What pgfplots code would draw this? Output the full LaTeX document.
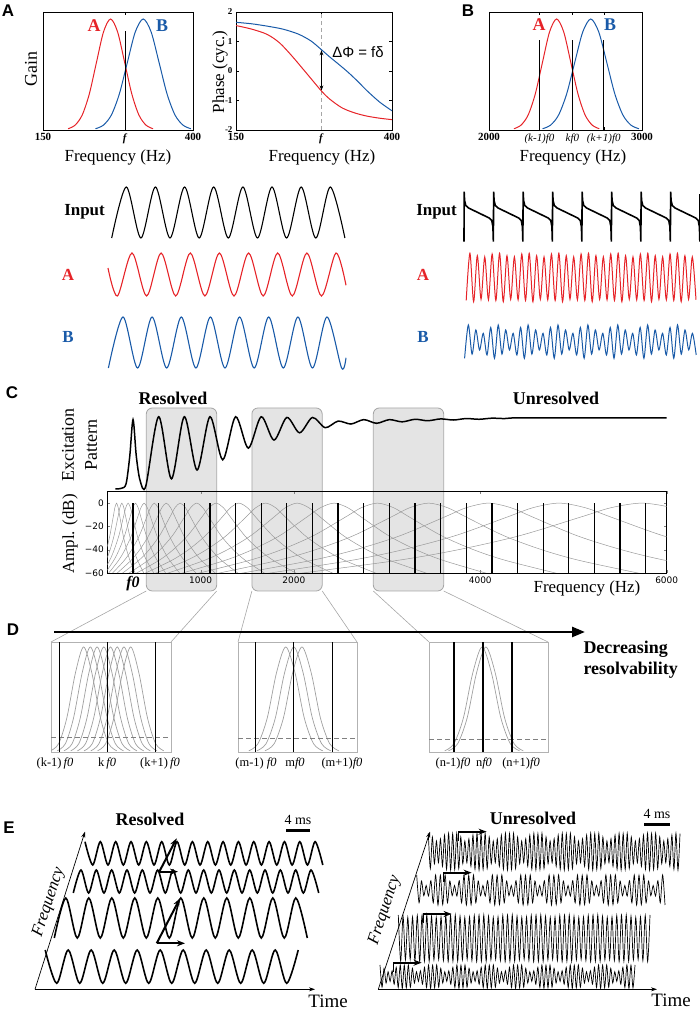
\documentclass[border=0pt]{standalone}
\usepackage{fontspec}
\setmainfont{Liberation Serif}
\setsansfont{Liberation Sans}
\newfontfamily\dejavu{DejaVu Sans}
\usepackage{pgfplots}
\usepackage{pgfplotstable}
\pgfplotsset{compat=1.18}
\usetikzlibrary{arrows.meta}

\definecolor{cred}{RGB}{230,35,40}
\definecolor{cblue}{RGB}{25,90,168}
\definecolor{boxgray}{RGB}{228,228,228}
\newcommand{\fs}[1]{\fontsize{#1}{#1}\selectfont}

\pgfplotsset{
  every axis/.append style={scale only axis, anchor=south west, axis line style={line width=0.6pt}},
  wave/.style={hide axis, clip=false, ymin=-1, ymax=1},
  smallplot/.style={tick align=inside, major tick length=3bp, tick style={black, line width=0.5pt},
    tick label style={font=\bfseries\fs{11}}},
  dbox/.style={ymin=0, ymax=1.047, ticks=none, axis line style={gray!60, line width=0.8pt}},
  dcurve/.style={gray!75, line width=0.7pt, smooth},
}

% tuning curves (panels A, B)
\pgfplotstableread{
g      ar     ab      br     bb
0.0111 191.8  237.5   2163   2350
0.0439 203.6  250.75  2209.5 2402.5
0.1353 215.4  264.0   2256   2455
0.3247 227.2  277.25  2302.5 2507.5
0.6065 239.0  290.5   2349   2560
0.8825 250.8  303.75  2395.5 2612.5
1.0    262.6  317.0   2442   2665
0.8825 274.4  330.25  2488.5 2717.5
0.6065 286.2  343.5   2535   2770
0.3247 298.0  356.75  2581.5 2822.5
0.1353 309.8  370.0   2628   2875
0.0439 321.6  383.25  2674.5 2927.5
0.0111 333.4  396.5   2721   2980
}\gausstab

% auditory filters (dB), panel C
\pgfplotstableread{
db f1 f2 f3 f4 f5 f6 f7 f8 f9 f10 f11 f12 f13 f14 f15 f16 f17 f18 f19
-61 -107 -86 -61 -31 4 44 92 148 214 291 383 490 616 764 937 1142 1381 1664 1995
-49.2 -46 -14 24 68 120 181 253 337 436 553 689 850 1039 1261 1522 1829 2189 2613 3110
-40 -10 29 73 126 188 261 347 448 566 706 870 1062 1288 1554 1866 2233 2664 3171 3765
-28 26 71 123 184 257 342 442 559 697 860 1050 1274 1537 1847 2209 2638 3139 3729 4421
-12 62 113 172 243 325 422 536 670 827 1013 1231 1486 1786 2139 2553 3042 3614 4287 5076
-3.9 80 134 197 272 360 463 584 725 893 1090 1321 1592 1910 2286 2725 3244 3851 4566 5404
0 98 155 222 301 394 503 631 781 958 1167 1411 1698 2035 2432 2897 3446 4089 4845 5732
-3.9 116 176 247 330 428 543 678 837 1023 1244 1501 1804 2160 2578 3069 3648 4327 5124 6060
-12 134 197 272 359 463 584 726 892 1089 1321 1591 1910 2284 2725 3241 3850 4564 5403 6388
-28 170 239 321 418 531 664 820 1003 1219 1474 1772 2122 2533 3017 3585 4254 5039 5961 7043
-40 206 282 371 476 600 745 915 1114 1350 1628 1952 2334 2782 3310 3928 4659 5514 6519 7699
-49.2 242 324 420 534 668 825 1009 1225 1480 1781 2133 2546 3031 3603 4272 5063 5989 7077 8354
-61 303 396 505 633 784 962 1170 1414 1702 2043 2439 2906 3454 4100 4857 5750 6797 8026 9469
}\filttab

% zoomed filters, panel D
\pgfplotstableread{
g a1 a2 a3 a4 a5 a6 a7 a8 b1 b2 b3 c1 c2
0.0111 -1.18 -1.04 -0.90 -0.76 -0.62 -0.48 -0.34 -0.20 -1.17 -0.96 -0.75 -1.32 -1.19
0.0796 -1.01 -0.87 -0.73 -0.59 -0.45 -0.31 -0.17 -0.03 -0.93 -0.72 -0.51 -1.00 -0.87
0.3247 -0.84 -0.70 -0.56 -0.42 -0.28 -0.14 0.00 0.14 -0.69 -0.48 -0.27 -0.675 -0.545
0.7548 -0.66 -0.52 -0.38 -0.24 -0.10 0.04 0.18 0.32 -0.45 -0.24 -0.03 -0.35 -0.22
1 -0.49 -0.35 -0.21 -0.07 0.07 0.21 0.35 0.49 -0.21 0.00 0.21 -0.03 0.10
0.7548 -0.32 -0.18 -0.04 0.10 0.24 0.38 0.52 0.66 0.03 0.24 0.45 0.29 0.42
0.3247 -0.14 0.00 0.14 0.28 0.42 0.56 0.70 0.84 0.27 0.48 0.69 0.615 0.745
0.0796 0.03 0.17 0.31 0.45 0.59 0.73 0.87 1.01 0.51 0.72 0.93 0.94 1.07
0.0111 0.20 0.34 0.48 0.62 0.76 0.90 1.04 1.18 0.75 0.96 1.17 1.26 1.39
}\dtab

% filtered complex tone, right column of panel A/B (half-cycle extrema)
\pgfplotstableread[row sep=\\]{
y\\
-0.95\\1.00\\-1.00\\0.90\\-0.90\\0.85\\-0.92\\0.97\\
-0.95\\1.00\\-1.00\\0.90\\-0.90\\0.85\\-0.92\\0.97\\
-0.95\\1.00\\-1.00\\0.90\\-0.90\\0.85\\-0.92\\0.97\\
-0.95\\1.00\\-1.00\\0.90\\-0.90\\0.85\\-0.92\\0.97\\
-0.95\\1.00\\-1.00\\0.90\\-0.90\\0.85\\-0.92\\0.97\\
-0.95\\1.00\\-1.00\\0.90\\-0.90\\0.85\\-0.92\\0.97\\
-0.95\\1.00\\-1.00\\0.90\\-0.90\\0.85\\-0.92\\0.97\\
-0.95\\1.00\\-1.00\\0.90\\-0.90\\0.85\\-0.92\\
}\rAtab
\pgfplotstableread[row sep=\\]{
y\\
-1.00\\1.00\\-0.75\\0.70\\-0.50\\0.50\\-0.80\\0.85\\
-1.00\\1.00\\-0.75\\0.70\\-0.50\\0.50\\-0.80\\0.85\\
-1.00\\1.00\\-0.75\\0.70\\-0.50\\0.50\\-0.80\\0.85\\
-1.00\\1.00\\-0.75\\0.70\\-0.50\\0.50\\-0.80\\0.85\\
-1.00\\1.00\\-0.75\\0.70\\-0.50\\0.50\\-0.80\\0.85\\
-1.00\\1.00\\-0.75\\0.70\\-0.50\\0.50\\-0.80\\0.85\\
-1.00\\1.00\\-0.75\\0.70\\-0.50\\0.50\\-0.80\\0.85\\
-1.00\\1.00\\-0.75\\0.70\\-0.50\\0.50\\-0.80\\
}\rBtab

% unresolved channels, panel E (half-cycle extrema)
\pgfplotstableread[row sep=\\]{
y\\
1.00\\-0.92\\0.80\\-0.66\\0.58\\-0.60\\0.70\\-0.80\\0.90\\-0.96\\1.00\\-1.00\\0.98\\-0.97\\
1.00\\-0.92\\0.80\\-0.66\\0.58\\-0.60\\0.70\\-0.80\\0.90\\-0.96\\1.00\\-1.00\\0.98\\-0.97\\
1.00\\-0.92\\0.80\\-0.66\\0.58\\-0.60\\0.70\\-0.80\\0.90\\-0.96\\1.00\\-1.00\\0.98\\-0.97\\
1.00\\-0.92\\0.80\\-0.66\\0.58\\-0.60\\0.70\\-0.80\\0.90\\-0.96\\1.00\\-1.00\\0.98\\-0.97\\
1.00\\-0.92\\0.80\\-0.66\\0.58\\-0.60\\0.70\\-0.80\\0.90\\-0.96\\1.00\\-1.00\\0.98\\-0.97\\
1.00\\-0.92\\0.80\\-0.66\\0.58\\-0.60\\0.70\\-0.80\\0.90\\-0.96\\1.00\\-1.00\\0.98\\-0.97\\
1.00\\-0.92\\0.80\\-0.66\\0.58\\-0.60\\0.70\\-0.80\\0.90\\-0.96\\1.00\\-1.00\\0.98\\-0.97\\
1.00\\-0.92\\0.80\\-0.66\\0.58\\-0.60\\0.70\\-0.80\\0.90\\-0.96\\1.00\\-1.00\\0.98\\-0.97\\
1.00\\-0.92\\0.80\\-0.66\\0.58\\-0.60\\0.70\\-0.80\\0.90\\-0.96\\1.00\\-1.00\\0.98\\
}\uFour
\pgfplotstableread[row sep=\\]{
y\\
1.00\\-0.85\\0.60\\-0.38\\0.30\\-0.40\\0.62\\-0.85\\1.00\\-1.00\\0.98\\-0.97\\
1.00\\-0.85\\0.60\\-0.38\\0.30\\-0.40\\0.62\\-0.85\\1.00\\-1.00\\0.98\\-0.97\\
1.00\\-0.85\\0.60\\-0.38\\0.30\\-0.40\\0.62\\-0.85\\1.00\\-1.00\\0.98\\-0.97\\
1.00\\-0.85\\0.60\\-0.38\\0.30\\-0.40\\0.62\\-0.85\\1.00\\-1.00\\0.98\\-0.97\\
1.00\\-0.85\\0.60\\-0.38\\0.30\\-0.40\\0.62\\-0.85\\1.00\\-1.00\\0.98\\-0.97\\
1.00\\-0.85\\0.60\\-0.38\\0.30\\-0.40\\0.62\\-0.85\\1.00\\-1.00\\0.98\\-0.97\\
1.00\\-0.85\\0.60\\-0.38\\0.30\\-0.40\\0.62\\-0.85\\1.00\\-1.00\\0.98\\-0.97\\
1.00\\-0.85\\0.60\\-0.38\\0.30\\-0.40\\0.62\\-0.85\\1.00\\-1.00\\0.98\\-0.97\\
1.00\\-0.85\\0.60\\-0.38\\0.30\\-0.40\\0.62\\-0.85\\1.00\\-1.00\\
}\uThree
\pgfplotstableread[row sep=\\]{
y\\
1.00\\-0.98\\0.95\\-0.92\\0.90\\-0.90\\0.92\\-0.95\\0.98\\-1.00\\1.00\\-0.98\\
1.00\\-0.98\\0.95\\-0.92\\0.90\\-0.90\\0.92\\-0.95\\0.98\\-1.00\\1.00\\-0.98\\
1.00\\-0.98\\0.95\\-0.92\\0.90\\-0.90\\0.92\\-0.95\\0.98\\-1.00\\1.00\\-0.98\\
1.00\\-0.98\\0.95\\-0.92\\0.90\\-0.90\\0.92\\-0.95\\0.98\\-1.00\\1.00\\-0.98\\
1.00\\-0.98\\0.95\\-0.92\\0.90\\-0.90\\0.92\\-0.95\\0.98\\-1.00\\1.00\\-0.98\\
1.00\\-0.98\\0.95\\-0.92\\0.90\\-0.90\\0.92\\-0.95\\0.98\\-1.00\\1.00\\-0.98\\
1.00\\-0.98\\0.95\\-0.92\\0.90\\-0.90\\0.92\\-0.95\\0.98\\-1.00\\1.00\\-0.98\\
1.00\\-0.98\\0.95\\-0.92\\0.90\\-0.90\\0.92\\-0.95\\0.98\\-1.00\\1.00\\-0.98\\
1.00\\-0.98\\0.95\\-0.92\\0.90\\-0.90\\0.92\\-0.95\\0.98\\-1.00\\1.00\\
}\uTwo
\pgfplotstableread[row sep=\\]{
y\\
1.00\\-0.90\\0.72\\-0.55\\0.42\\-0.40\\0.50\\-0.65\\0.80\\-0.93\\1.00\\-1.00\\0.98\\-0.95\\
1.00\\-0.90\\0.72\\-0.55\\0.42\\-0.40\\0.50\\-0.65\\0.80\\-0.93\\1.00\\-1.00\\0.98\\-0.95\\
1.00\\-0.90\\0.72\\-0.55\\0.42\\-0.40\\0.50\\-0.65\\0.80\\-0.93\\1.00\\-1.00\\0.98\\-0.95\\
1.00\\-0.90\\0.72\\-0.55\\0.42\\-0.40\\0.50\\-0.65\\0.80\\-0.93\\1.00\\-1.00\\0.98\\-0.95\\
1.00\\-0.90\\0.72\\-0.55\\0.42\\-0.40\\0.50\\-0.65\\0.80\\-0.93\\1.00\\-1.00\\0.98\\-0.95\\
1.00\\-0.90\\0.72\\-0.55\\0.42\\-0.40\\0.50\\-0.65\\0.80\\-0.93\\1.00\\-1.00\\0.98\\-0.95\\
1.00\\-0.90\\0.72\\-0.55\\0.42\\-0.40\\0.50\\-0.65\\0.80\\-0.93\\1.00\\-1.00\\0.98\\-0.95\\
1.00\\-0.90\\0.72\\-0.55\\0.42\\-0.40\\0.50\\-0.65\\0.80\\-0.93\\1.00\\-1.00\\0.98\\-0.95\\
1.00\\-0.90\\0.72\\-0.55\\0.42\\-0.40\\0.50\\-0.65\\0.80\\-0.93\\1.00\\-1.00\\0.98\\-0.95\\
1.00\\
}\uOne

\begin{document}
\begin{tikzpicture}
\useasboundingbox (0,0) rectangle (700bp,1010bp);

% background of panel C/D: highlight boxes and zoom lines (pixel frame, y down)
\begin{scope}[x=1bp,y=-1bp,yshift=1010bp]
  \foreach \a/\b in {146.3/216.7, 251.9/322.2, 373.3/443.7}
    \draw[fill=boxgray, draw=gray!70, line width=0.8pt, rounded corners=6bp] (\a,408) rectangle (\b,591);
  \draw[gray!70, line width=0.6pt] (146.3,591)--(51,642) (216.7,591)--(171,642)
    (251.9,591)--(238,642) (322.2,591)--(357,642) (373.3,591)--(429,642) (443.7,591)--(548,642);
\end{scope}

% ---------- panel A: gain ----------
\begin{axis}[smallplot, at={(43bp,880bp)}, width=150bp, height=118bp,
  xmin=150, xmax=400, ymin=0, ymax=1.063,
  xtick={150,287,400}, xticklabels={150,\textit{f},400}, ytick=\empty]
\addplot[cred, line width=1pt, smooth] table[x=ar, y=g]{\gausstab};
\addplot[cblue, line width=1pt, smooth] table[x=ab, y=g]{\gausstab};
\addplot[black, line width=1.3pt] coordinates {(287,0) (287,0.89)};
\end{axis}

% ---------- panel A: phase ----------
\begin{axis}[smallplot, at={(236bp,880bp)}, width=156bp, height=118bp,
  xmin=150, xmax=400, ymin=-2, ymax=2,
  xtick={150,287,400}, xticklabels={150,\textit{f},400},
  ytick={-2,-1,0,1,2}, yticklabels={-2,-1,0,1,2}, y tick label style={font=\bfseries\fs{9}}]
\addplot[gray!70, line width=1pt, dash pattern=on 4bp off 3bp] coordinates {(287,-2) (287,2)};
\addplot[cblue, line width=1pt, smooth] coordinates {(150,1.65) (175,1.6) (200,1.52) (225,1.42) (250,1.25)
  (270,1.02) (287,0.72) (300,0.48) (315,0.22) (330,-0.05) (345,-0.35) (360,-0.67) (380,-1.05) (400,-1.35)};
\addplot[cred, line width=1pt, smooth] coordinates {(150,1.54) (175,1.42) (200,1.24) (220,0.95) (240,0.5)
  (260,0.0) (275,-0.38) (287,-0.68) (300,-0.95) (320,-1.25) (340,-1.42) (360,-1.53) (380,-1.6) (400,-1.65)};
\addplot[black, line width=0.9pt, {Stealth[length=5bp]}-{Stealth[length=5bp]}] coordinates {(287,0.70) (287,-0.66)};
\end{axis}

% ---------- panel B ----------
\begin{axis}[smallplot, at={(489bp,880bp)}, width=153bp, height=118bp,
  xmin=2000, xmax=3000, ymin=0, ymax=1.063, ytick=\empty,
  xtick={2000,2330,2545,2750,3000},
  xticklabels={\textbf{2000},\textit{(k-1)f0},\textit{kf0},\textit{(k+1)f0},\textbf{3000}},
  x tick label style={font=\fs{11}}]
\addplot[cred, line width=1pt, smooth] table[x=br, y=g]{\gausstab};
\addplot[cblue, line width=1pt, smooth] table[x=bb, y=g]{\gausstab};
\addplot[black, line width=1.3pt, unbounded coords=jump] coordinates {(2330,0) (2330,0.81) (2330,nan)
  (2545,0) (2545,0.81) (2545,nan) (2750,0) (2750,0.81)};
\end{axis}

% ---------- waveforms, left column (x in picture pixels) ----------
\begin{axis}[wave, at={(108bp,772bp)}, width=238bp, height=51bp, xmin=108, xmax=346]
\addplot[black, line width=1.1pt, smooth] coordinates {(111.7,-1) (126.3,1) (140.9,-1) (155.4,1) (170.0,-1)
 (184.6,1) (199.2,-1) (213.7,1) (228.3,-1) (242.9,1) (257.5,-1) (272.0,1) (286.6,-1) (301.2,1) (315.8,-1)
 (330.3,1) (344.9,-1)};
\end{axis}
\begin{axis}[wave, at={(108bp,714bp)}, width=238bp, height=43bp, xmin=108, xmax=346]
\addplot[cred, line width=1.1pt, smooth] coordinates {(108,0.3) (117.4,-1) (132.0,1) (146.6,-1) (161.1,1)
 (175.7,-1) (190.3,1) (204.9,-1) (219.4,1) (234.0,-1) (248.6,1) (263.2,-1) (277.7,1) (292.3,-1) (306.9,1)
 (321.5,-1) (336.0,1) (346,-0.5)};
\end{axis}
\begin{axis}[wave, at={(108bp,642bp)}, width=238bp, height=51bp, xmin=108, xmax=346]
\addplot[cblue, line width=1.1pt, smooth] coordinates {(108.4,-1) (123.0,1) (137.6,-1) (152.1,1) (166.7,-1)
 (181.3,1) (195.9,-1) (210.4,1) (225.0,-1) (239.6,1) (254.2,-1) (268.7,1) (283.3,-1) (297.9,1) (312.5,-1)
 (327.0,1) (341.6,-1) (346,-0.6)};
\end{axis}

% ---------- waveforms, right column ----------
\begin{axis}[wave, at={(464bp,768.3bp)}, width=236bp, height=50bp, xmin=0, xmax=8]
\addplot[black, line width=1.6pt] coordinates {
 (0,-1) (0.005,1) (0.02,0.65) (0.06,0.45) (0.15,0.35) (0.5,0.15) (0.85,-0.05) (0.94,-0.15) (0.98,-0.4)
 (0.995,-1) (1.005,1) (1.02,0.65) (1.06,0.45) (1.15,0.35) (1.5,0.15) (1.85,-0.05) (1.94,-0.15) (1.98,-0.4)
 (1.995,-1) (2.005,1) (2.02,0.65) (2.06,0.45) (2.15,0.35) (2.5,0.15) (2.85,-0.05) (2.94,-0.15) (2.98,-0.4)
 (2.995,-1) (3.005,1) (3.02,0.65) (3.06,0.45) (3.15,0.35) (3.5,0.15) (3.85,-0.05) (3.94,-0.15) (3.98,-0.4)
 (3.995,-1) (4.005,1) (4.02,0.65) (4.06,0.45) (4.15,0.35) (4.5,0.15) (4.85,-0.05) (4.94,-0.15) (4.98,-0.4)
 (4.995,-1) (5.005,1) (5.02,0.65) (5.06,0.45) (5.15,0.35) (5.5,0.15) (5.85,-0.05) (5.94,-0.15) (5.98,-0.4)
 (5.995,-1) (6.005,1) (6.02,0.65) (6.06,0.45) (6.15,0.35) (6.5,0.15) (6.85,-0.05) (6.94,-0.15) (6.98,-0.4)
 (6.995,-1) (7.005,1) (7.02,0.65) (7.06,0.45) (7.15,0.35) (7.5,0.15) (7.85,-0.05) (7.94,-0.15) (7.98,-0.4)
 (7.995,-1) (8,0.9)};
\end{axis}
\begin{axis}[wave, at={(466.2bp,708.3bp)}, width=229.8bp, height=48.4bp, xmin=0, xmax=62]
\addplot[cred, line width=1pt, smooth] table[x expr=\coordindex, y=y]{\rAtab};
\end{axis}
\begin{axis}[wave, at={(464.6bp,651.7bp)}, width=231.6bp, height=33.3bp, xmin=0, xmax=62]
\addplot[cblue, line width=1pt, smooth] table[x expr=\coordindex, y=y]{\rBtab};
\end{axis}

% ---------- panel C: excitation pattern ----------
\begin{axis}[hide axis, clip=false, at={(107.4bp,521bp)}, width=559.3bp, height=73bp,
  xmin=0, xmax=6000, ymin=0, ymax=1]
\addplot[black, line width=1.5pt, smooth] coordinates {(85,0) (150,0.01) (200,0.07) (240,0.45) (275,0.95)
 (310,0.45) (350,0.12) (412,0.04) (550,0.99) (687,0.14) (825,0.99) (962,0.26) (1100,0.99) (1237,0.40)
 (1375,0.99) (1512,0.56) (1650,0.99) (1787,0.67) (1925,0.98) (2062,0.77) (2200,0.98) (2337,0.84)
 (2475,0.93) (2612,0.89) (2750,0.95) (2887,0.90) (3025,0.95) (3162,0.92) (3300,0.955) (3437,0.935)
 (3575,0.96) (3712,0.945) (3850,0.965) (3987,0.955) (4125,0.97) (4262,0.965) (4400,0.975) (5000,0.975) (6000,0.975)};
\end{axis}

% ---------- panel C: filter bank and harmonics ----------
\begin{axis}[at={(107.4bp,437bp)}, width=559.3bp, height=81.5bp,
  xmin=0, xmax=6000, ymin=-60, ymax=10,
  xtick={1000,2000,4000,6000}, xticklabels={1000,2000,4000,6000},
  ytick={-60,-40,-20,0}, yticklabels={−60,−40,−20,0},
  tick align=inside, major tick length=3bp, tick label style={font=\dejavu\fs{9}},
  axis line style={line width=0.9pt}]
\pgfplotsinvokeforeach{1,...,19}{\addplot[gray!80, line width=0.5pt, smooth] table[x=f#1, y=db]{\filttab};}
\addplot[black, line width=1.3pt, unbounded coords=jump] coordinates {
 (275,-60) (275,0) (275,nan) (550,-60) (550,0) (550,nan) (825,-60) (825,0) (825,nan)
 (1100,-60) (1100,0) (1100,nan) (1375,-60) (1375,0) (1375,nan) (1650,-60) (1650,0) (1650,nan)
 (1925,-60) (1925,0) (1925,nan) (2200,-60) (2200,0) (2200,nan) (2475,-60) (2475,0) (2475,nan)
 (2750,-60) (2750,0) (2750,nan) (3025,-60) (3025,0) (3025,nan) (3300,-60) (3300,0) (3300,nan)
 (3575,-60) (3575,0) (3575,nan) (3850,-60) (3850,0) (3850,nan) (4125,-60) (4125,0) (4125,nan)
 (4400,-60) (4400,0) (4400,nan) (4675,-60) (4675,0) (4675,nan) (4950,-60) (4950,0) (4950,nan)
 (5225,-60) (5225,0) (5225,nan) (5500,-60) (5500,0) (5500,nan) (5775,-60) (5775,0)};
\end{axis}

% ---------- panel D ----------
\begin{axis}[dbox, at={(51bp,258bp)}, width=120bp, height=110bp, xmin=-1.17, xmax=1.33]
\pgfplotsinvokeforeach{1,...,8}{\addplot[dcurve] table[x=a#1, y=g]{\dtab};}
\addplot[gray, line width=1.1pt, dash pattern=on 5bp off 3bp] coordinates {(-1.17,0.14) (1.33,0.14)};
\addplot[black, line width=1.2pt, unbounded coords=jump] coordinates {(-1,0) (-1,1.05) (-1,nan) (0,0) (0,1.05) (0,nan) (1,0) (1,1.05)};
\end{axis}
\begin{axis}[dbox, at={(238bp,258bp)}, width=119bp, height=110bp, xmin=-1.45, xmax=1.64]
\pgfplotsinvokeforeach{1,2,3}{\addplot[dcurve] table[x=b#1, y=g]{\dtab};}
\addplot[gray, line width=1.1pt, dash pattern=on 5bp off 3bp] coordinates {(-1.45,0.13) (1.64,0.13)};
\addplot[black, line width=1.2pt, unbounded coords=jump] coordinates {(-1,0) (-1,1.05) (-1,nan) (0,0) (0,1.05) (0,nan) (1,0) (1,1.05)};
\end{axis}
\begin{axis}[dbox, at={(429bp,258bp)}, width=119bp, height=110bp, xmin=-1.86, xmax=2.24]
\pgfplotsinvokeforeach{1,2}{\addplot[dcurve] table[x=c#1, y=g]{\dtab};}
\addplot[gray, line width=1.1pt, dash pattern=on 5bp off 3bp] coordinates {(-1.86,0.12) (2.24,0.12)};
\addplot[black, line width=1.2pt, unbounded coords=jump] coordinates {(-1,0) (-1,1.05) (-1,nan) (0,0) (0,1.05) (0,nan) (1,0) (1,1.05)};
\end{axis}

% ---------- panel E: resolved ----------
\begin{axis}[wave, at={(45.2bp,26.7bp)}, width=253bp, height=33.3bp, xmin=0, xmax=22]
\addplot[black, line width=1.6pt, smooth] coordinates {(0,1)(1,-1)(2,1)(3,-1)(4,1)(5,-1)(6,1)(7,-1)(8,1)(9,-1)(10,1)
 (11,-1)(12,1)(13,-1)(14,1)(15,-1)(16,1)(17,-1)(18,1)(19,-1)(20,1)(21,-1)(22,1)};
\end{axis}
\begin{axis}[wave, at={(54.3bp,72bp)}, width=253bp, height=40bp, xmin=0, xmax=22]
\addplot[black, line width=1.6pt, smooth] coordinates {(0,-1)(1,1)(2,-1)(3,1)(4,-1)(5,1)(6,-1)(7,1)(8,-1)(9,1)(10,-1)
 (11,1)(12,-1)(13,1)(14,-1)(15,1)(16,-1)(17,1)(18,-1)(19,1)(20,-1)(21,1)(22,-1)};
\end{axis}
\begin{axis}[wave, at={(73.3bp,117bp)}, width=245.4bp, height=23bp, xmin=0, xmax=32]
\addplot[black, line width=1.6pt, smooth] coordinates {(0,-1)(1,1)(2,-1)(3,1)(4,-1)(5,1)(6,-1)(7,1)(8,-1)(9,1)(10,-1)
 (11,1)(12,-1)(13,1)(14,-1)(15,1)(16,-1)(17,1)(18,-1)(19,1)(20,-1)(21,1)(22,-1)(23,1)(24,-1)(25,1)(26,-1)
 (27,1)(28,-1)(29,1)(30,-1)(31,1)(32,-1)};
\end{axis}
\begin{axis}[wave, at={(85bp,145bp)}, width=237.8bp, height=23.3bp, xmin=0, xmax=31]
\addplot[black, line width=1.6pt, smooth] coordinates {(0,1)(1,-1)(2,1)(3,-1)(4,1)(5,-1)(6,1)(7,-1)(8,1)(9,-1)(10,1)
 (11,-1)(12,1)(13,-1)(14,1)(15,-1)(16,1)(17,-1)(18,1)(19,-1)(20,1)(21,-1)(22,1)(23,-1)(24,1)(25,-1)(26,1)
 (27,-1)(28,1)(29,-1)(30,1)(31,-1)};
\end{axis}

% ---------- panel E: unresolved ----------
\begin{axis}[wave, at={(380bp,21.7bp)}, width=255bp, height=23.3bp, xmin=0, xmax=126]
\addplot[black, line width=0.7pt, smooth] table[x expr=\coordindex, y=y]{\uOne};
\end{axis}
\begin{axis}[wave, at={(398.3bp,48.3bp)}, width=251.7bp, height=46.7bp, xmin=0, xmax=106]
\addplot[black, line width=0.7pt, smooth] table[x expr=\coordindex, y=y]{\uTwo};
\end{axis}
\begin{axis}[wave, at={(416.7bp,105bp)}, width=248.3bp, height=30bp, xmin=0, xmax=105]
\addplot[black, line width=0.7pt, smooth] table[x expr=\coordindex, y=y]{\uThree};
\end{axis}
\begin{axis}[wave, at={(428.3bp,140bp)}, width=251.7bp, height=36.7bp, xmin=0, xmax=124]
\addplot[black, line width=0.7pt, smooth] table[x expr=\coordindex, y=y]{\uFour};
\end{axis}

% ---------- annotations and text (pixel frame, y down) ----------
\begin{scope}[x=1bp,y=-1bp,yshift=1010bp]
  \foreach \t/\x/\y in {A/8/11, B/468/11, C/12/393, D/13/630, E/9/828}
    \node[font=\sffamily\bfseries\fs{17}] at (\x,\y) {\t};
  \node[rotate=90, font=\fs{18}] at (31,69) {Gain};
  \node[rotate=90, font=\fs{17}] at (220,72) {Phase (cyc.)};
  \node[font=\fs{17}] at (118,157) {Frequency (Hz)};
  \node[font=\fs{17}] at (322,157) {Frequency (Hz)};
  \node[font=\fs{17}] at (573,157) {Frequency (Hz)};
  \node[font=\bfseries\fs{18}, text=cred] at (94,26) {A};
  \node[font=\bfseries\fs{18}, text=cblue] at (162,26) {B};
  \node[font=\bfseries\fs{18}, text=cred] at (539,25) {A};
  \node[font=\bfseries\fs{18}, text=cblue] at (610,25) {B};
  \node[font=\sffamily\fs{15}] at (358,52) {ΔΦ = fδ};
  \node[font=\bfseries\fs{17}] at (84.5,212) {Input};
  \node[font=\bfseries\fs{17}, text=cred] at (68,275) {A};
  \node[font=\bfseries\fs{17}, text=cblue] at (68,337) {B};
  \node[font=\bfseries\fs{17}] at (436.5,212) {Input};
  \node[font=\bfseries\fs{17}, text=cred] at (423,275) {A};
  \node[font=\bfseries\fs{17}, text=cblue] at (423,337) {B};
  \node[font=\bfseries\fs{18}] at (173,398) {Resolved};
  \node[font=\bfseries\fs{18}] at (556,398) {Unresolved};
  \node[rotate=90, font=\fs{18}] at (68,445) {Excitation};
  \node[rotate=90, font=\fs{18}] at (91,445) {Pattern};
  \node[rotate=90, font=\fs{17}] at (70,534) {Ampl. (dB)};
  \node[font=\bfseries\itshape\fs{16}] at (133,584) {f0};
  \node[font=\fs{17}] at (587,588) {Frequency (Hz)};
  % panel D
  \draw[line width=2.5bp, -{Triangle[length=13bp, width=10bp]}] (54,632) -- (585,632);
  \node[font=\bfseries\fs{18}, anchor=west] at (580,649) {Decreasing};
  \node[font=\bfseries\fs{18}, anchor=west] at (580,670) {resolvability};
  \node[font=\fs{12.5}] at (55,763) {(k-1)\,\textit{f0}};
  \node[font=\fs{12.5}] at (107,763) {k\,\textit{f0}};
  \node[font=\fs{12.5}] at (160,763) {(k+1)\,\textit{f0}};
  \node[font=\fs{12.5}] at (256,763) {(m-1) \textit{f0}};
  \node[font=\fs{12.5}] at (295,763) {m\textit{f0}};
  \node[font=\fs{12.5}] at (342,763) {(m+1)\textit{f0}};
  \node[font=\fs{12.5}] at (453,763) {(n-1)\textit{f0}};
  \node[font=\fs{12.5}] at (484,763) {n\textit{f0}};
  \node[font=\fs{12.5}] at (521,763) {(n+1)\textit{f0}};
  % panel E axes
  \draw[line width=0.7bp, -{Stealth[length=6bp, width=4bp]}] (35,989.3) -- (315,989.3);
  \draw[line width=0.7bp, -{Stealth[length=6bp, width=4bp]}] (35,989.3) -- (85,831.7);
  \draw[line width=0.7bp, -{Stealth[length=6bp, width=4bp]}] (378.3,989.3) -- (657,989.3);
  \draw[line width=0.7bp, -{Stealth[length=6bp, width=4bp]}] (378.3,989.3) -- (430,831.7);
  \node[font=\bfseries\fs{18}] at (150,819) {Resolved};
  \node[font=\bfseries\fs{18}] at (533,818) {Unresolved};
  \node[font=\fs{14}] at (298,820) {4 ms};
  \draw[line width=3bp] (286,831) -- (310,831);
  \node[font=\fs{14}] at (657,814) {4 ms};
  \draw[line width=3bp] (644,825) -- (670,825);
  \node[font=\fs{19}] at (328,1001) {Time};
  \node[font=\fs{19}] at (671,1000) {Time};
  \node[font=\itshape\fs{17}, rotate=72] at (49,902) {Frequency};
  \node[font=\itshape\fs{17}, rotate=72] at (385,910) {Frequency};
  % phase arrows, resolved
  \draw[line width=2bp, -{Stealth[length=8bp, width=6bp]}] (156.7,943.3) -- (180,898.3);
  \draw[line width=2bp, -{Stealth[length=8bp, width=6bp]}] (156.7,943.3) -- (185,943.3);
  \draw[line width=2bp, -{Stealth[length=8bp, width=6bp]}] (159.3,871.7) -- (176.7,838.3);
  \draw[line width=2bp, -{Stealth[length=8bp, width=6bp]}] (159.3,871.7) -- (178,871.7);
  % period arrows, unresolved
  \foreach \x/\y in {458.3/831.7, 443.3/872.7, 423.3/914, 393.3/962.7} {
    \draw[line width=2bp, -{Stealth[length=8bp, width=6bp]}] (\x,\y) -- ++(28.3,0);
    \draw[line width=1.2bp] (\x,\y) -- ++(0,9);
  }
\end{scope}
\end{tikzpicture}
\end{document}
